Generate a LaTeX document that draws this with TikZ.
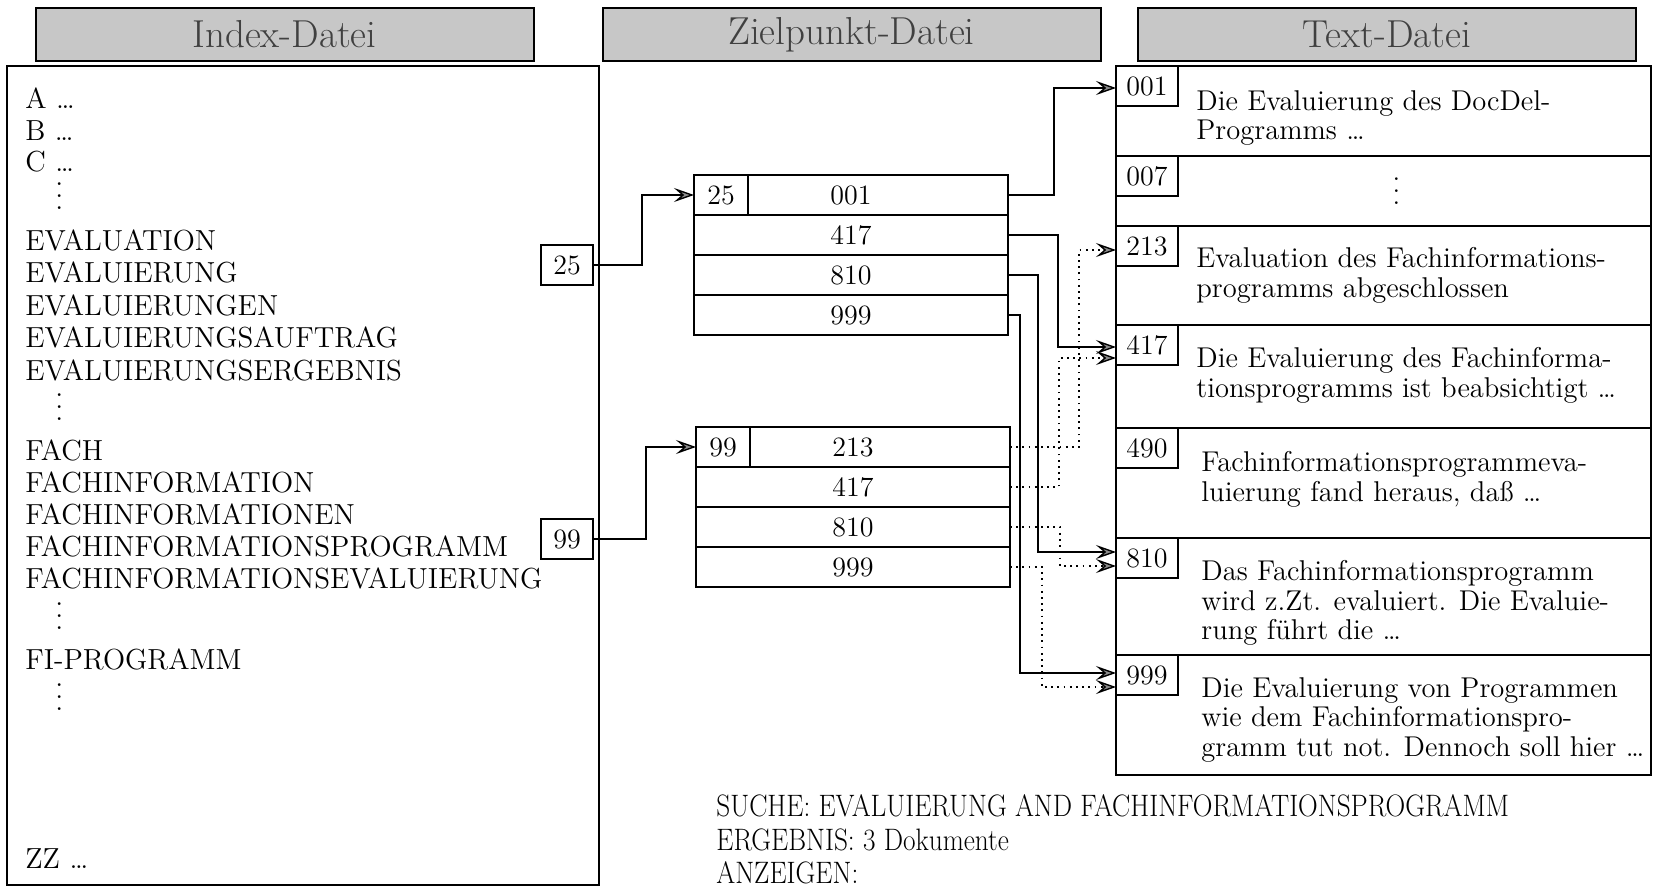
\documentclass[tikz,border=0pt]{standalone}
\usepackage{graphicx}
\usepackage{tikz}
\usetikzlibrary{arrows.meta, positioning, calc}
\newcommand{\coldots}{\vbox{\baselineskip=6pt\lineskiplimit=0pt\hbox{.}\hbox{.}\hbox{.}}}

\begin{document}
\begin{tikzpicture}[
    x=0.5pt, y=-0.5pt,
    hdr/.style={rectangle, draw, fill=black!22, line width=1pt, minimum width=249pt,
                minimum height=26.5pt, font=\fontsize{19.5}{20}\selectfont, text=black!75},
    frame/.style={rectangle, draw, line width=1pt, outer sep=0pt, anchor=north west},
    idx/.style={anchor=west, inner sep=0pt, font=\fontsize{14.5}{16}\selectfont},
    keybox/.style={rectangle, draw, line width=0.8pt, minimum width=26pt, minimum height=20pt,
                   inner sep=0pt, font=\fontsize{14}{16}\selectfont},
    zrow/.style={rectangle, draw, line width=1pt, outer sep=0pt, minimum width=157pt,
                 minimum height=20pt, inner sep=0pt, font=\fontsize{14}{16}\selectfont},
    zkey/.style={zrow, minimum width=27pt, anchor=north west},
    trow/.style={rectangle, draw, line width=1pt, outer sep=0pt, minimum width=267.5pt, inner sep=0pt},
    tlab/.style={rectangle, draw, line width=0.8pt, outer sep=0pt, minimum width=31pt,
                 minimum height=20pt, inner sep=0pt, anchor=north west, font=\fontsize{14}{16}\selectfont},
    ttext/.style={anchor=north west, align=left, inner sep=0pt, font=\fontsize{14.3}{14.75}\selectfont},
    qtext/.style={anchor=north west, inner sep=0pt, font=\fontsize{15.5}{16.75}\selectfont},
    conn/.style={line width=0.7pt, -{Stealth[length=10pt, width=7pt, inset=4pt, fill=black!45]}},
    dconn/.style={conn, dash pattern=on 0.9pt off 2.2pt}
  ]
  \useasboundingbox (0,0) rectangle (1653,887);

  % headers
  \node[hdr] (hidx) at (284.5,34.5) {Index-Datei};
  \node[hdr] (hziel) at (851.5,34.5) {Zielpunkt-Datei};
  \node[hdr] (htext) at (1387,34.5) {Text-Datei};

  % index file
  \node[frame, minimum width=296pt, minimum height=409.5pt] (index) at (7,66) {};
  \foreach \y/\t [count=\i] in {98/A \dots, 131/B \dots, 162/C \dots,
      240/EVALUATION, 272/EVALUIERUNG, 305/EVALUIERUNGEN, 337/EVALUIERUNGSAUFTRAG,
      370/EVALUIERUNGSERGEBNIS, 450/FACH, 482/FACHINFORMATION, 514/FACHINFORMATIONEN,
      546/FACHINFORMATIONSPROGRAMM, 578/FACHINFORMATIONSEVALUIERUNG, 659/FI-PROGRAMM,
      859/ZZ \dots}
    \node[idx] (idx\i) at (25,\y) {\t};
  \foreach \y [count=\i] in {196,407,616,697}
    \node[idx] (dots\i) at (55,\y) {\coldots};
  \node[keybox] (k25) at (567,265) {25};
  \node[keybox] (k99) at (567,539) {99};

  % target file
  \node[zrow, anchor=north west] (z1r1) at (694,175) {001};
  \node[zrow, below=0pt of z1r1] (z1r2) {417};
  \node[zrow, below=0pt of z1r2] (z1r3) {810};
  \node[zrow, below=0pt of z1r3] (z1r4) {999};
  \node[zkey] (z1key) at (z1r1.north west) {25};
  \node[zrow, anchor=north west] (z2r1) at (696,427) {213};
  \node[zrow, below=0pt of z2r1] (z2r2) {417};
  \node[zrow, below=0pt of z2r2] (z2r3) {810};
  \node[zrow, below=0pt of z2r3] (z2r4) {999};
  \node[zkey] (z2key) at (z2r1.north west) {99};

  % text file
  \node[trow, anchor=north west, minimum height=45pt] (t001) at (1116,66) {};
  \node[trow, below=0pt of t001, minimum height=35pt] (t007) {};
  \node[trow, below=0pt of t007, minimum height=49.5pt] (t213) {};
  \node[trow, below=0pt of t213, minimum height=51.5pt] (t417) {};
  \node[trow, below=0pt of t417, minimum height=55pt] (t490) {};
  \node[trow, below=0pt of t490, minimum height=58.5pt] (t810) {};
  \node[trow, below=0pt of t810, minimum height=60pt] (t999) {};
  \node[tlab] (l001) at (t001.north west) {001};
  \node[tlab] (l007) at (t007.north west) {007};
  \node[tlab] (l213) at (t213.north west) {213};
  \node[tlab] (l417) at (t417.north west) {417};
  \node[tlab] (l490) at (t490.north west) {490};
  \node[tlab] (l810) at (t810.north west) {810};
  \node[tlab] (l999) at (t999.north west) {999};
  \node[ttext] (x001) at ([xshift=40pt, yshift=-12pt]t001.north west) {Die Evaluierung des DocDel-\\Programms \dots};
  \node[font=\fontsize{14}{16}\selectfont, inner sep=0pt] (x007) at ([xshift=6.5pt]t007.center) {\coldots};
  \node[ttext] (x213) at ([xshift=40pt, yshift=-10.5pt]t213.north west) {Evaluation des Fachinformations-\\programms abgeschlossen};
  \node[ttext] (x417) at ([xshift=40pt, yshift=-11pt]t417.north west) {Die Evaluierung des Fachinforma-\\tionsprogramms ist beabsichtigt \dots};
  \node[ttext] (x490) at ([xshift=42.5pt, yshift=-11.5pt]t490.north west) {Fachinformationsprogrammeva-\\luierung fand heraus, daß \dots};
  \node[ttext] (x810) at ([xshift=42.5pt, yshift=-11pt]t810.north west) {Das Fachinformationsprogramm\\wird z.Zt. evaluiert. Die Evaluie-\\rung führt die \dots};
  \node[ttext] (x999) at ([xshift=42.5pt, yshift=-11pt]t999.north west) {Die Evaluierung von Programmen\\wie dem Fachinformationspro-\\gramm tut not. Dennoch soll hier \dots};

  % query
  \node[qtext] (query) at (716,793) {\scalebox{0.88}[1]{\begin{tabular}{@{}l@{}}
      SUCHE: EVALUIERUNG AND FACHINFORMATIONSPROGRAMM\\
      ERGEBNIS: 3 Dokumente\\
      ANZEIGEN:\end{tabular}}};

  % links
  \draw[conn] (k25.east) -- ++(48,0) |- (z1key.west);
  \draw[conn] (k99.east) -- ++(52,0) |- (z2key.west);
  \draw[conn] (z1r1.east) -- ++(46,0) |- ([yshift=-1pt]l001.west);
  \draw[conn] (z1r2.east) -- ++(50,0) |- ([yshift=-1pt]l417.west);
  \draw[conn] (z1r3.east) -- ++(30,0) |- ([yshift=3pt]l810.west);
  \draw[conn] (z1r4.east) -- ++(12,0) |- ([yshift=1pt]l999.west);
  \draw[dconn] (z2r1.east) -- ++(69,0) |- ([yshift=-2pt]l213.west);
  \draw[dconn] (z2r2.east) -- ++(49,0) |- ([yshift=-6.5pt]l417.west);
  \draw[dconn] (z2r3.east) -- ++(50,0) |- ([yshift=-4pt]l810.west);
  \draw[dconn] (z2r4.east) -- ++(32,0) |- ([yshift=-6pt]l999.west);
\end{tikzpicture}
\end{document}
